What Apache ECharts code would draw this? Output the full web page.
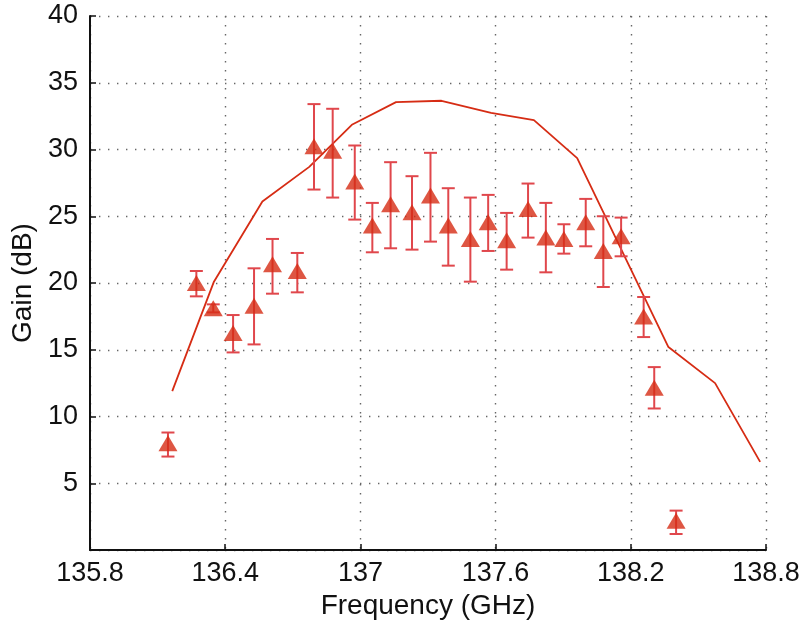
<!DOCTYPE html>
<html>
<head>
<meta charset="utf-8">
<script src="https://cdn.jsdelivr.net/npm/echarts@6/dist/echarts.min.js"></script>
<style>
  html, body { margin: 0; padding: 0; background: #fff; }
  #chart { width: 809px; height: 627px; }
</style>
</head>
<body>
<div id="chart"></div>
<script>
// Measured gain with error bars (frequency in GHz, gain in dB)
const measFreq = [136.146, 136.272, 136.347, 136.435, 136.528, 136.61, 136.72, 136.794, 136.877,
  136.975, 137.053, 137.134, 137.229, 137.311, 137.39, 137.488, 137.567, 137.649, 137.744,
  137.823, 137.903, 138.0, 138.078, 138.157, 138.257, 138.304, 138.401];
const measGain = [8.0, 20.0, 18.1, 16.25, 18.3, 21.4, 20.9, 30.25, 29.9,
  27.6, 24.3, 25.9, 25.3, 26.55, 24.3, 23.3, 24.55, 23.2, 25.55,
  23.4, 23.3, 24.55, 22.4, 23.5, 17.5, 12.15, 2.2];
const measHigh = [8.8, 20.9, 18.4, 17.6, 21.1, 23.3, 22.25, 33.4, 33.05,
  30.3, 26.0, 29.05, 28.0, 29.75, 27.1, 26.4, 26.6, 25.25, 27.45,
  26.0, 24.4, 26.3, 25.0, 24.9, 18.95, 13.7, 2.95];
const measLow = [7.0, 19.0, 17.8, 14.8, 15.4, 19.2, 19.3, 27.0, 26.4,
  24.75, 22.3, 22.6, 22.5, 23.1, 21.3, 20.1, 22.4, 21.0, 23.4,
  20.8, 22.2, 22.75, 19.7, 22.0, 15.95, 10.6, 1.2];

// Simulated gain curve
const simFreq = [136.165, 136.35, 136.565, 136.773, 136.962, 137.158, 137.36, 137.58, 137.77,
  137.962, 138.367, 138.574, 138.774];
const simGain = [11.9, 20.1, 26.1, 28.7, 31.85, 33.55, 33.65, 32.75, 32.2,
  29.35, 15.2, 12.5, 6.6];

// Axis ticks
const xTicks = [135.8, 136.4, 137, 137.6, 138.2, 138.8];
const yTicks = [0, 5, 10, 15, 20, 25, 30, 35, 40];

// x values are plotted relative to the first tick so the tick interval lines up
const xBase = xTicks[0];
const xStep = xTicks[1] - xTicks[0];
const rel = f => +(f - xBase).toFixed(4);

const red = '#d62c14';
const barRed = '#e0474c';
const font = '"Liberation Sans", Arial, sans-serif';
const dotted = { color: '#666', width: 1.4, type: [1.4, 7.6] };

const chart = echarts.init(document.getElementById('chart'), null, { renderer: 'canvas' });

chart.setOption({
  animation: false,
  backgroundColor: '#fff',
  grid: { left: 90, right: 43, top: 16, bottom: 77, containLabel: false },
  xAxis: {
    type: 'value',
    min: 0,
    max: +(xTicks[xTicks.length - 1] - xBase).toFixed(4),
    interval: +xStep.toFixed(4),
    name: 'Frequency (GHz)',
    nameLocation: 'middle',
    nameGap: 41,
    nameTextStyle: { fontFamily: font, fontSize: 28, color: '#111' },
    axisLine: { show: true, lineStyle: { color: '#111', width: 2 } },
    axisTick: { show: true, inside: true, length: 6, lineStyle: { color: '#111', width: 1.5 } },
    axisLabel: {
      fontFamily: font, fontSize: 27, color: '#111', margin: 10,
      formatter: v => String(parseFloat((v + xBase).toFixed(1)))
    },
    splitLine: { show: true, lineStyle: dotted }
  },
  yAxis: {
    type: 'value',
    min: yTicks[0],
    max: yTicks[yTicks.length - 1],
    interval: yTicks[1] - yTicks[0],
    name: 'Gain (dB)',
    nameLocation: 'middle',
    nameGap: 46,
    nameTextStyle: { fontFamily: font, fontSize: 28, color: '#111' },
    axisLine: { show: true, lineStyle: { color: '#111', width: 2 } },
    axisTick: { show: true, inside: true, length: 6, lineStyle: { color: '#111', width: 1.5 } },
    axisLabel: {
      fontFamily: font, fontSize: 27, color: '#111', margin: 12,
      formatter: v => (v === 0 ? '' : String(v))
    },
    splitLine: { show: true, lineStyle: dotted }
  },
  series: [
    {
      name: 'Simulated',
      type: 'line',
      data: simFreq.map((f, i) => [rel(f), simGain[i]]),
      showSymbol: false,
      smooth: false,
      lineStyle: { color: red, width: 1.8 },
      z: 3
    },
    {
      name: 'Error',
      type: 'custom',
      data: measFreq.map((f, i) => [rel(f), measLow[i], measHigh[i]]),
      renderItem: (params, api) => {
        const x = api.value(0);
        const lo = api.coord([x, api.value(1)]);
        const hi = api.coord([x, api.value(2)]);
        const cap = 6.5;
        const style = { stroke: barRed, lineWidth: 2 };
        return {
          type: 'group',
          children: [
            { type: 'line', shape: { x1: lo[0], y1: lo[1], x2: hi[0], y2: hi[1] }, style },
            { type: 'line', shape: { x1: lo[0] - cap, y1: lo[1], x2: lo[0] + cap, y2: lo[1] }, style },
            { type: 'line', shape: { x1: hi[0] - cap, y1: hi[1], x2: hi[0] + cap, y2: hi[1] }, style }
          ]
        };
      },
      encode: { x: 0, y: [1, 2] },
      z: 4
    },
    {
      name: 'Measured',
      type: 'scatter',
      data: measFreq.map((f, i) => [rel(f), measGain[i]]),
      symbol: 'triangle',
      symbolSize: [19, 16],
      itemStyle: { color: red },
      z: 5
    }
  ]
});
</script>
</body>
</html>
